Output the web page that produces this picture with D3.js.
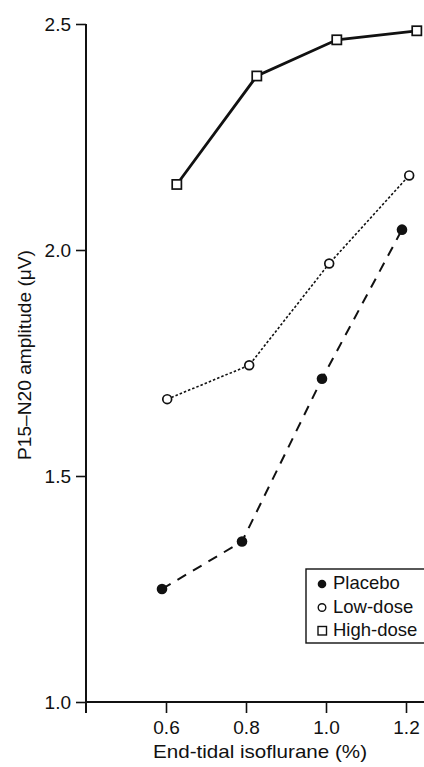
<!DOCTYPE html>
<html>
<head>
<meta charset="utf-8">
<script src="https://cdn.jsdelivr.net/npm/d3@7"></script>
<style>
  html, body { margin: 0; padding: 0; background: #fff; }
  svg { display: block; }
  text { font-family: "Liberation Sans", Arial, Helvetica, sans-serif; fill: #111; }
</style>
</head>
<body>
<svg id="chart" width="424" height="767"></svg>
<script>
// ---- data ----
const isoPlacebo = [0.59, 0.79, 0.99, 1.19];
const ampPlacebo = [1.25, 1.355, 1.715, 2.045];
const isoLow = [0.603, 0.808, 1.008, 1.208];
const ampLow = [1.67, 1.745, 1.97, 2.165];
const isoHigh = [0.627, 0.827, 1.027, 1.227];
const ampHigh = [2.145, 2.385, 2.465, 2.485];
const xTicks = [0.6, 0.8, 1.0, 1.2];
const yTicks = [1.0, 1.5, 2.0, 2.5];
const seriesNames = ["Placebo", "Low-dose", "High-dose"];
const xTitle = "End-tidal isoflurane (%)";
const yTitle = "P15\u2013N20 amplitude (\u03BCV)";

const svg = d3.select("#chart");
const x = d3.scaleLinear().domain([0.4, 1.245]).range([86, 424]);
const y = d3.scaleLinear().domain([1.0, 2.5]).range([702, 24]);

// axes
const yAxis = d3.axisLeft(y).tickValues(yTicks).tickSize(10).tickPadding(5)
  .tickFormat(d3.format(".1f"));
const gy = svg.append("g").attr("transform", `translate(${x(0.4)},0)`).call(yAxis);
gy.select(".domain").remove();
gy.selectAll(".tick line").attr("stroke", "#111").attr("stroke-width", 1.6);
gy.selectAll(".tick text").attr("font-size", 19).attr("dy", "0.36em")
  .style("font-family", '"Liberation Sans", Arial, sans-serif').attr("fill", "#111");

const xAxis = d3.axisBottom(x).tickValues(xTicks).tickSize(11).tickPadding(8)
  .tickFormat(d3.format(".1f"));
const gx = svg.append("g").attr("transform", `translate(0,${y(1.0)})`).call(xAxis);
gx.select(".domain").remove();
gx.selectAll(".tick line").attr("stroke", "#111").attr("stroke-width", 1.6);
gx.selectAll(".tick text").attr("font-size", 19)
  .style("font-family", '"Liberation Sans", Arial, sans-serif').attr("fill", "#111");

// axis lines
svg.append("line").attr("x1", x(0.4)).attr("x2", x(0.4))
  .attr("y1", y(2.5)).attr("y2", y(1.0) + 11)
  .attr("stroke", "#111").attr("stroke-width", 2);
svg.append("line").attr("x1", x(0.4) - 1).attr("x2", 424)
  .attr("y1", y(1.0)).attr("y2", y(1.0))
  .attr("stroke", "#111").attr("stroke-width", 2);

// titles
svg.append("text").attr("x", 260).attr("y", 758).attr("text-anchor", "middle")
  .attr("font-size", 19).attr("textLength", 214).attr("lengthAdjust", "spacingAndGlyphs")
  .text(xTitle);
svg.append("text").attr("transform", "translate(31,355) rotate(-90)")
  .attr("text-anchor", "middle").attr("font-size", 19)
  .attr("textLength", 210).attr("lengthAdjust", "spacingAndGlyphs")
  .text(yTitle);

// lines
const line = d3.line().x(d => x(d[0])).y(d => y(d[1]));
const dP = isoPlacebo.map((v, i) => [v, ampPlacebo[i]]);
const dL = isoLow.map((v, i) => [v, ampLow[i]]);
const dH = isoHigh.map((v, i) => [v, ampHigh[i]]);

svg.append("path").datum(dP).attr("d", line).attr("fill", "none")
  .attr("stroke", "#111").attr("stroke-width", 2).attr("stroke-dasharray", "10,8");
svg.append("path").datum(dL).attr("d", line).attr("fill", "none")
  .attr("stroke", "#111").attr("stroke-width", 1.6).attr("stroke-dasharray", "2.5,2");
svg.append("path").datum(dH).attr("d", line).attr("fill", "none")
  .attr("stroke", "#111").attr("stroke-width", 2.8);

// markers
svg.selectAll(".mp").data(dP).join("circle").attr("class", "mp")
  .attr("cx", d => x(d[0])).attr("cy", d => y(d[1])).attr("r", 5.3)
  .attr("fill", "#111");
svg.selectAll(".ml").data(dL).join("circle").attr("class", "ml")
  .attr("cx", d => x(d[0])).attr("cy", d => y(d[1])).attr("r", 4.4)
  .attr("fill", "#fff").attr("stroke", "#111").attr("stroke-width", 1.7);
svg.selectAll(".mh").data(dH).join("rect").attr("class", "mh")
  .attr("x", d => x(d[0]) - 4.6).attr("y", d => y(d[1]) - 4.6)
  .attr("width", 9.2).attr("height", 9.2)
  .attr("fill", "#fff").attr("stroke", "#111").attr("stroke-width", 1.7);

// legend
const lg = svg.append("g");
lg.append("rect").attr("x", 306).attr("y", 569).attr("width", 125).attr("height", 74)
  .attr("fill", "#fff").attr("stroke", "#111").attr("stroke-width", 1.4);
const base = [589, 612.5, 636];
lg.append("circle").attr("cx", 322).attr("cy", base[0] - 5).attr("r", 4.3).attr("fill", "#111");
lg.append("circle").attr("cx", 322).attr("cy", base[1] - 5).attr("r", 3.8)
  .attr("fill", "#fff").attr("stroke", "#111").attr("stroke-width", 1.4);
lg.append("rect").attr("x", 318).attr("y", base[2] - 9.5).attr("width", 8.5).attr("height", 8.5)
  .attr("fill", "#fff").attr("stroke", "#111").attr("stroke-width", 1.4);
seriesNames.forEach((n, i) => {
  lg.append("text").attr("x", 333).attr("y", base[i]).attr("font-size", 18.5).text(n);
});
</script>
</body>
</html>
